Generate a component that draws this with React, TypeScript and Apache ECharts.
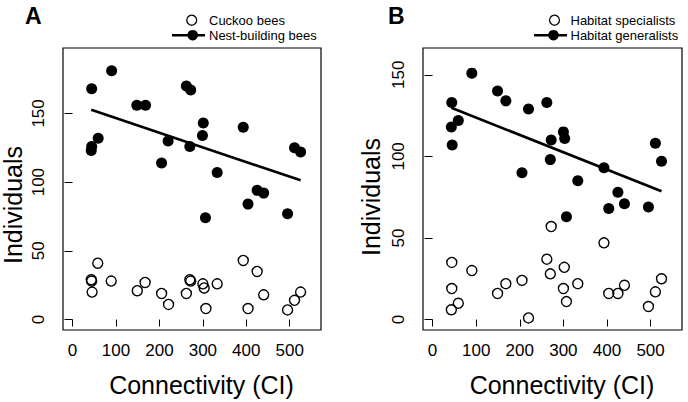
import React, { useEffect, useRef } from "react";
import * as echarts from "echarts";

// ---- data ----
const xTicks = [0, 100, 200, 300, 400, 500];
const yTicks = [0, 50, 100, 150];
const xLimits = [0, 550];
const yLimitsA = [0, 190];
const yLimitsB = [0, 160];

const cuckooBees = [
  [58, 41], [43, 29], [44, 28], [45, 20], [89, 28], [149, 21], [167, 27], [205, 19],
  [221, 11], [262, 19], [270, 29], [272, 28], [300, 26], [303, 23], [307, 8], [333, 26],
  [393, 43], [404, 8], [425, 35], [440, 18], [495, 7], [511, 14], [525, 20],
];
const nestBuildingBees = [
  [44, 168], [90, 181], [43, 123], [44, 126], [59, 132], [148, 156], [168, 156], [205, 114],
  [220, 130], [262, 170], [272, 167], [270, 126], [299, 134], [301, 143], [306, 74], [333, 107],
  [393, 140], [404, 84], [425, 94], [440, 92], [495, 77], [511, 125], [525, 122],
];
const nestTrend = [[43, 152.6], [525, 101.3]];

const habitatSpecialists = [
  [44, 35], [44, 19], [43, 6], [59, 10], [90, 30], [149, 16], [168, 22], [205, 24],
  [220, 1], [262, 37], [270, 28], [272, 57], [302, 32], [300, 19], [307, 11], [333, 22],
  [393, 47], [404, 16], [425, 16], [440, 21], [495, 8], [511, 17], [525, 25],
];
const habitatGeneralists = [
  [44, 133], [43, 118], [59, 122], [45, 107], [90, 151], [149, 140], [168, 134], [220, 129],
  [205, 90], [262, 133], [270, 98], [272, 110], [300, 115], [303, 111], [333, 85], [393, 93],
  [425, 78], [511, 108], [525, 97], [440, 71], [404, 68], [495, 69], [307, 63],
];
const generalistTrend = [[43, 129.8], [525, 78.6]];

const legendA = ["Cuckoo bees", "Nest-building bees"];
const legendB = ["Habitat specialists", "Habitat generalists"];
const xTitle = "Connectivity (CI)";
const yTitle = "Individuals";

// ---- helpers ----
const FONT = "'Liberation Sans', Arial, Helvetica, sans-serif";
const ext = (l: number[]) => {
  const d = (l[1] - l[0]) * 0.04;
  return [l[0] - d, l[1] + d];
};

function xAxisFor(gridIndex: number) {
  const [min, max] = ext(xLimits);
  return {
    type: "value",
    gridIndex,
    min,
    max,
    offset: 1,
    axisLine: { show: false },
    splitLine: { show: false },
    axisTick: { show: true, length: 7, customValues: xTicks, lineStyle: { color: "#000", width: 1 } },
    axisLabel: { customValues: xTicks, color: "#000", fontSize: 17, fontFamily: FONT, margin: 11 },
  };
}
function yAxisFor(gridIndex: number, lim: number[]) {
  const [min, max] = ext(lim);
  return {
    type: "value",
    gridIndex,
    min,
    max,
    offset: 1,
    axisLine: { show: false },
    splitLine: { show: false },
    axisTick: { show: true, length: 8, customValues: yTicks, lineStyle: { color: "#000", width: 1 } },
    axisLabel: { customValues: yTicks, rotate: 90, color: "#000", fontSize: 17, fontFamily: FONT, margin: 15 },
  };
}

const openStyle = { color: "rgba(0,0,0,0)", borderColor: "#000", borderWidth: 1.4, opacity: 1 };
const filledStyle = { color: "#000", opacity: 1 };

function legendGraphics(x0: number, labels: string[], openX: number, filledX: number, lineX: number[]) {
  const y1 = 20.2;
  const y2 = 35.2;
  const ts = { fontSize: 13, fontFamily: FONT, fill: "#000", align: "left", verticalAlign: "middle" };
  return [
    { type: "circle", shape: { cx: openX, cy: y1, r: 5 }, style: { fill: "none", stroke: "#000", lineWidth: 1.3 } },
    { type: "text", x: x0, y: y1, style: { text: labels[0], ...ts } },
    { type: "line", shape: { x1: lineX[0], y1: y2, x2: lineX[1], y2: y2 }, style: { stroke: "#000", lineWidth: 2.5 } },
    { type: "circle", shape: { cx: filledX, cy: y2, r: 5.3 }, style: { fill: "#000" } },
    { type: "text", x: x0, y: y2, style: { text: labels[1], ...ts } },
  ];
}

export default function App() {
  const ref = useRef<HTMLDivElement>(null);
  useEffect(() => {
    if (!ref.current) return;
    const chart = echarts.init(ref.current, null, { renderer: "svg" });
    const titleStyle = { fontSize: 25, fontFamily: FONT, fill: "#000", align: "center", verticalAlign: "middle" };
    const letterStyle = { fontSize: 23, fontWeight: "bold", fontFamily: FONT, fill: "#000", align: "left", verticalAlign: "middle" };
    chart.setOption({
      animation: false,
      backgroundColor: "#fff",
      grid: [
        { left: 63, top: 48, width: 258, height: 282, show: true, borderColor: "#000", borderWidth: 1.2, backgroundColor: "transparent" },
        { left: 423, top: 48, width: 259, height: 282, show: true, borderColor: "#000", borderWidth: 1.2, backgroundColor: "transparent" },
      ],
      xAxis: [xAxisFor(0), xAxisFor(1)],
      yAxis: [yAxisFor(0, yLimitsA), yAxisFor(1, yLimitsB)],
      series: [
        { name: legendA[0], type: "scatter", xAxisIndex: 0, yAxisIndex: 0, data: cuckooBees, symbol: "circle", symbolSize: 10, itemStyle: openStyle },
        { name: legendA[1], type: "scatter", xAxisIndex: 0, yAxisIndex: 0, data: nestBuildingBees, symbol: "circle", symbolSize: 11, itemStyle: filledStyle },
        { type: "line", xAxisIndex: 0, yAxisIndex: 0, data: nestTrend, symbol: "none", lineStyle: { color: "#000", width: 2.6 } },
        { name: legendB[0], type: "scatter", xAxisIndex: 1, yAxisIndex: 1, data: habitatSpecialists, symbol: "circle", symbolSize: 10, itemStyle: openStyle },
        { name: legendB[1], type: "scatter", xAxisIndex: 1, yAxisIndex: 1, data: habitatGeneralists, symbol: "circle", symbolSize: 11, itemStyle: filledStyle },
        { type: "line", xAxisIndex: 1, yAxisIndex: 1, data: generalistTrend, symbol: "none", lineStyle: { color: "#000", width: 2.6 } },
      ],
      graphic: [
        { type: "text", x: 25, y: 15.5, style: { text: "A", ...letterStyle } },
        { type: "text", x: 388, y: 15.5, style: { text: "B", ...letterStyle } },
        ...legendGraphics(209, legendA, 191.7, 192.7, [172, 205]),
        ...legendGraphics(570.5, legendB, 554.5, 553.5, [534, 567]),
        { type: "text", x: 201.5, y: 385, style: { text: xTitle, ...titleStyle } },
        { type: "text", x: 562, y: 385, style: { text: xTitle, ...titleStyle } },
        { type: "text", x: 12.7, y: 205, rotation: Math.PI / 2, style: { text: yTitle, ...titleStyle } },
        { type: "text", x: 370.5, y: 197, rotation: Math.PI / 2, style: { text: yTitle, ...titleStyle } },
      ],
    });
    return () => chart.dispose();
  }, []);
  return <div ref={ref} style={{ position: "fixed", left: 0, top: 0, width: 688, height: 402 }} />;
}
